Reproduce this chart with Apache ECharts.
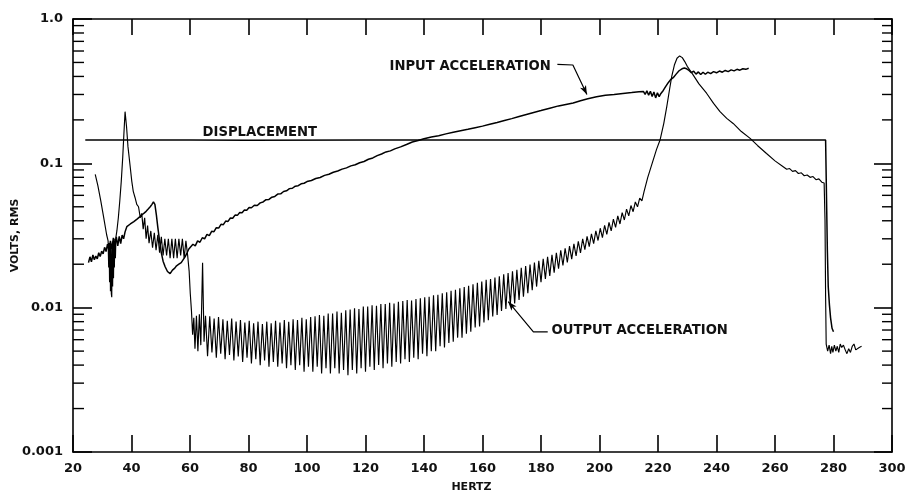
<!DOCTYPE html>
<html>
<head>
<meta charset="utf-8">
<script src="https://cdn.jsdelivr.net/npm/echarts@6/dist/echarts.min.js"></script>
<style>html,body{margin:0;padding:0;background:#fff}#c{width:908px;height:492px}</style>
</head>
<body>
<div id="c"></div>
<script>
// ---- axes ----
var xTicks = [20, 40, 60, 80, 100, 120, 140, 160, 180, 200, 220, 240, 260, 280, 300];
var yTickLabels = {"0": "1.0", "-1": "0.1", "-2": "0.01", "-3": "0.001"};
var minorTickVals = [0.002,0.003,0.004,0.005,0.006,0.007,0.008,0.009,
                     0.02,0.03,0.04,0.05,0.06,0.07,0.08,0.09,
                     0.2,0.3,0.4,0.5,0.6,0.7,0.8,0.9];

// ---- series: [hertz, volts rms] ----
var displacement = [[24.2,0.145],[60,0.145],[80,0.1445],[120,0.145],[200,0.145],[277.3,0.145],
  [277.6,0.06],[277.9,0.025],[278.2,0.014],[278.6,0.0105],[279.0,0.0085],[279.5,0.0072],[280.0,0.0068]];

var inputAccel = [
  [25.3,0.0205],[25.8,0.0225],[26.3,0.0208],[26.8,0.0232],[27.3,0.0215],[27.8,0.0228],[28.3,0.0218],[28.8,0.0240],
  [29.3,0.0226],[29.8,0.0246],[30.3,0.0236],[30.8,0.0262],[31.3,0.0245],[31.8,0.0275],[32.3,0.0250],[32.8,0.0290],
  [33.3,0.0255],[33.8,0.0305],[34.3,0.0262],[34.8,0.0310],[35.3,0.0268],[35.8,0.0312],[36.3,0.0278],[36.8,0.0318],
  [37.3,0.0300],[37.8,0.0335],[38.4,0.0364],[39,0.0355],[39.6,0.0380],[40.2,0.0372],[40.8,0.0395],[41.4,0.0392],
  [42,0.0412],[42.9,0.0427],[43.6,0.0440],[44.3,0.0452],[45,0.0465],[45.7,0.0482],[46.4,0.0500],[47,0.0520],
  [47.5,0.0540],[48,0.0520],[48.5,0.0440],[49,0.0360],[49.6,0.0290],[50.2,0.0240],[50.8,0.0210],[51.5,0.0192],
  [52.3,0.0178],[53.2,0.0172],[54,0.0182],[54.8,0.0188],[55.4,0.0195],[56.2,0.0200],[57,0.0205],[57.6,0.0208],
  [58.3,0.0225],[59,0.0240],[59.6,0.0255],[60.2,0.0250],[61,0.0275],[61.8,0.0268],[62.6,0.0290],[63.4,0.0284],
  [64.2,0.0305],[65,0.0300],[65.8,0.0322],[66.6,0.0316],[67.4,0.0338],[68.2,0.0336],[69,0.0358],[69.8,0.0356],
  [70.6,0.0378],[71.4,0.0376],[72.2,0.0398],[73,0.0396],[73.8,0.0418],[74.6,0.0416],[75.4,0.0438],[76.2,0.0436],
  [77,0.0456],[77.8,0.0455],[78.6,0.0475],[79.4,0.0474],[80.2,0.0494],[81,0.0492],[82,0.0512],[83,0.0510],
  [84,0.0532],[85,0.0540],[86,0.0560],[87,0.0562],[88,0.0583],[89,0.0590],[90,0.0612],[91,0.0615],
  [92,0.0638],[93,0.0645],[94,0.0668],[95,0.0672],[96,0.0695],[97,0.0700],[98,0.0722],[99,0.0728],
  [100,0.0748],[101.5,0.0760],[103,0.0785],[104.5,0.0798],[106,0.0825],[107.5,0.0840],[109,0.0868],[110.5,0.0885],
  [112,0.0912],[113.5,0.0930],[115,0.0960],[116.5,0.0978],[118,0.1010],[119.5,0.1030],[121,0.1068],[122.5,0.1090],
  [124,0.1130],[125.5,0.1160],[127,0.1200],[128.5,0.1220],[130,0.1260],[132,0.1300],[134,0.1350],[136,0.1405],
  [138,0.1440],[140,0.1480],[142.5,0.1520],[145,0.1555],[147.5,0.1600],[150,0.1640],[152.5,0.1680],[155,0.1720],
  [157.5,0.1765],[160,0.1810],[162.5,0.1865],[165,0.1920],[167.5,0.1980],[170,0.2040],[172.5,0.2110],[175,0.2180],
  [177.5,0.2250],[180,0.2320],[183,0.2410],[186,0.2500],[188.5,0.2560],[191,0.2620],[193.5,0.2710],[196,0.2800],
  [199,0.2890],[202,0.2960],[205,0.3000],[208,0.3050],[211,0.3090],[213.5,0.3130],[215,0.3150],[215.6,0.300],
  [216.2,0.318],[216.8,0.296],[217.4,0.316],[218,0.290],[218.6,0.312],[219.2,0.284],[219.8,0.308],[220.4,0.290],
  [221,0.305],[221.8,0.320],[222.6,0.340],[223.5,0.362],[224.3,0.380],[225.2,0.392],[226.2,0.415],[227.2,0.438],
  [228.2,0.452],[229,0.458],[229.8,0.452],[230.6,0.440],[231.4,0.425],[232.2,0.435],[233,0.415],[233.8,0.430],
  [234.6,0.412],[235.4,0.428],[236.2,0.414],[237,0.428],[238,0.418],[239,0.432],[240,0.424],[241,0.436],
  [242,0.428],[243,0.440],[244,0.432],[245,0.444],[246,0.437],[247,0.448],[248,0.442],[249,0.452],
  [250,0.448],[251,0.456]
];

var outputAccel = [
  [27.6,0.084],[28.5,0.070],[29.5,0.055],[30.5,0.042],[31.5,0.032],[32.0,0.029],[32.2,0.019],[32.35,0.028],
  [32.5,0.015],[32.65,0.028],[32.8,0.013],[32.95,0.027],[33.1,0.0125],[33.25,0.0118],[33.4,0.027],[33.55,0.014],
  [33.7,0.029],[33.85,0.016],[34.0,0.029],[34.15,0.019],[34.3,0.030],[34.5,0.022],[34.7,0.031],[35.0,0.034],
  [35.5,0.042],[36.0,0.055],[36.5,0.075],[37.0,0.11],[37.4,0.16],
  [37.8,0.228],[38.3,0.18],[38.8,0.13],[39.5,0.097],[40.1,0.075],[40.6,0.064],[41.2,0.058],[41.8,0.052],
  [42.4,0.050],[43.0,0.042],[43.5,0.045],[44.0,0.035],[44.5,0.042],[45.0,0.030],[45.5,0.037],[46.0,0.028],
  [46.6,0.034],[47.2,0.026],[47.8,0.033],[48.4,0.025],[49.0,0.032],[49.6,0.024],[50.2,0.031],[50.8,0.023],
  [51.4,0.030],[52.0,0.023],[52.6,0.030],[53.2,0.022],[53.8,0.030],[54.4,0.022],[55.0,0.030],[55.6,0.022],
  [56.2,0.030],[56.8,0.023],[57.4,0.030],[58.0,0.022],[58.6,0.029],[59.2,0.023],[59.7,0.018],[60.1,0.0125],
  [60.5,0.0095],[60.9,0.0065],[61.3,0.0085],[61.7,0.0052],[62.2,0.0088],[62.7,0.0050],[63.2,0.0090],[63.7,0.0055],
  [64.3,0.0205],[64.8,0.0058],[65.3,0.0088],
  [66,0.0046],[66.75,0.0087],[67.5,0.0049],[68.25,0.0084],[69,0.0045],[69.75,0.0086],[70.5,0.0048],[71.25,0.0083],
  [72,0.0044],[72.75,0.0081],[73.5,0.0047],[74.25,0.0084],[75,0.0043],[75.75,0.0080],[76.5,0.0046],[77.25,0.0082],
  [78,0.0042],[78.75,0.0079],[79.5,0.0045],[80.25,0.0081],[81,0.0041],[81.75,0.0078],[82.5,0.0044],[83.25,0.0080],
  [84,0.0040],[84.75,0.0077],[85.5,0.0043],[86.25,0.0080],[87,0.0039],[87.75,0.0078],[88.5,0.0042],[89.25,0.0081],
  [90,0.0039],[90.75,0.0079],[91.5,0.0041],[92.25,0.0082],[93,0.0038],[93.75,0.0080],[94.5,0.0040],[95.25,0.0083],
  [96,0.0037],[96.75,0.0082],[97.5,0.0040],[98.25,0.0085],[99,0.0036],[99.75,0.0083],[100.5,0.0039],[101.25,0.0086],
  [102,0.0036],[102.75,0.0087],[103.5,0.0039],[104.25,0.0089],[105,0.0035],[105.75,0.0088],[106.5,0.0038],[107.25,0.0091],
  [108,0.0035],[108.75,0.0091],[109.5,0.0038],[110.25,0.0094],[111,0.0035],[111.75,0.0092],[112.5,0.0037],[113.25,0.0096],
  [114,0.0034],[114.75,0.0097],[115.5,0.0037],[116.25,0.0099],[117,0.0035],[117.75,0.0098],[118.5,0.0038],[119.25,0.0102],
  [120,0.0036],[120.75,0.0102],[121.5,0.0039],[122.25,0.0104],[123,0.0037],[123.75,0.0103],[124.5,0.0040],[125.25,0.0106],
  [126,0.0038],[126.75,0.0106],[127.5,0.0041],[128.25,0.0108],[129,0.0039],[129.75,0.0107],[130.5,0.0042],[131.25,0.0110],
  [132,0.0041],[132.75,0.0111],[133.5,0.0044],[134.25,0.0113],[135,0.0042],[135.75,0.0112],[136.5,0.0045],[137.25,0.0115],
  [138,0.0044],[138.75,0.0116],[139.5,0.0048],[140.25,0.0118],[141,0.0046],[141.75,0.0119],[142.5,0.0050],[143.25,0.0122],
  [144,0.0050],[144.75,0.0123],[145.5,0.0054],[146.25,0.0126],[147,0.0053],[147.75,0.0128],[148.5,0.0057],[149.25,0.0131],
  [150,0.0058],[150.75,0.0133],[151.5,0.0062],[152.25,0.0136],[153,0.0062],[153.75,0.0139],[154.5,0.0066],[155.25,0.0142],
  [156,0.0068],[156.75,0.0145],[157.5,0.0073],[158.25,0.0149],[159,0.0074],[159.75,0.0152],[160.5,0.0079],[161.25,0.0156],
  [162,0.0082],[162.75,0.0158],[163.5,0.0087],[164.25,0.0162],[165,0.0089],[165.75,0.0165],[166.5,0.0095],[167.25,0.0170],
  [168,0.0098],[168.75,0.0174],[169.5,0.0104],[170.25,0.0179],[171,0.0107],[171.75,0.0183],[172.5,0.0113],[173.25,0.0189],
  [174,0.0119],[174.75,0.0194],[175.5,0.0126],[176.25,0.0199],[177,0.0132],[177.75,0.0205],[178.5,0.0140],[179.25,0.0211],
  [180,0.0150],[180.75,0.0218],[181.5,0.0158],[182.25,0.0225],[183,0.0166],[183.75,0.0232],[184.5,0.0175],[185.25,0.0240],
  [186,0.0186],[186.75,0.0250],[187.5,0.0196],[188.25,0.0258],[189,0.0206],[189.75,0.0267],[190.5,0.0217],[191.25,0.0277],
  [192,0.0228],[192.75,0.0288],[193.5,0.0240],[194.25,0.0300],[195,0.0252],[195.75,0.0312],[196.5,0.0265],[197.25,0.0325],
  [198,0.0278],[198.75,0.0340],[199.5,0.0292],[200.25,0.0355],[201,0.0306],[201.75,0.0372],[202.5,0.0322],[203.25,0.0390],
  [204,0.0340],[204.75,0.0410],[205.5,0.0360],[206.25,0.0432],[207,0.0380],[207.75,0.0455],[208.5,0.0405],[209.25,0.0482],
  [210,0.0432],[210.75,0.0510],[211.5,0.0462],[212.25,0.0540],[213,0.0500],[213.75,0.0575],[214.5,0.0550],[215.25,0.0640],
  [216.5,0.080],[218,0.100],[219.5,0.125],[220.7,0.145],[222,0.19],[223,0.247],[224,0.33],[224.7,0.40],
  [225.6,0.48],[226.5,0.535],[227.4,0.555],[228.3,0.54],[229.2,0.505],[230,0.47],[231,0.44],[232,0.41],
  [234,0.355],[236.6,0.306],[239,0.26],[241.2,0.228],[243.5,0.205],[245.7,0.189],[248.5,0.166],[251.5,0.149],
  [254,0.133],[257.1,0.117],[260,0.104],[262.8,0.0947],[264,0.091],[265,0.092],[266,0.088],[267,0.089],
  [268,0.085],[269,0.086],[270,0.082],[271,0.083],[272,0.080],[273,0.081],[274,0.077],[275,0.078],
  [276,0.074],[276.8,0.073],[277.1,0.040],[277.3,0.012],[277.5,0.0056],[278.0,0.0050],[278.5,0.0055],[279.0,0.0048],
  [279.4,0.0054],[279.8,0.0049],[280.3,0.0055],[280.8,0.0050],[281.3,0.0054],[281.8,0.0049],[282.3,0.0056],[282.8,0.0053],
  [283.4,0.0055],[284,0.0051],[284.6,0.0048],[285.2,0.0052],[285.8,0.0049],[286.4,0.0054],[287,0.0056],[287.6,0.0051],
  [288.2,0.0050],[288.8,0.0053],[289.6,0.0054]
];

// ---- annotations ----
var annoText = ["INPUT ACCELERATION", "DISPLACEMENT", "OUTPUT ACCELERATION"];
var annoHz   = [128.2, 64.3, 183.6];
var annoV    = [0.467, 0.163, 0.0069];
var inputLeader  = [[185.6,0.485],[190.9,0.48],[195.7,0.300]];
var outputLeader = [[182.3,0.0068],[177.4,0.0068],[168.8,0.011]];

var FONT = '"DejaVu Sans", "Liberation Sans", sans-serif';
var chart = echarts.init(document.getElementById('c'), null, {renderer: 'canvas'});

function lineSeries(data, w) {
  return {type: 'line', data: data, showSymbol: false, symbol: 'none', silent: true,
          lineStyle: {color: '#000', width: w}, z: 3, animation: false};
}
function leaderSeries(data, rot) {
  var d = data.map(function (p, i) {
    if (i === data.length - 1) return {value: p, symbol: 'arrow', symbolSize: [5, 9], symbolRotate: rot};
    return {value: p, symbol: 'none'};
  });
  return {type: 'line', data: d, showSymbol: true, silent: true,
          itemStyle: {color: '#000'}, lineStyle: {color: '#000', width: 1.2}, z: 4, animation: false};
}

var axisLineStyle = {color: '#000', width: 1.6};
var labelStyle = {color: '#111', fontSize: 13, fontWeight: 'bold', fontFamily: FONT};

var option = {
  backgroundColor: '#fff',
  animation: false,
  grid: {left: 73, right: 16, top: 19, bottom: 40, containLabel: false, outerBoundsMode: 'none'},
  xAxis: [
    {type: 'value', min: 20, max: 300, interval: 20, position: 'bottom',
     axisLine: {lineStyle: axisLineStyle},
     axisTick: {inside: true, length: 17, lineStyle: {color: '#000', width: 1.6}},
     axisLabel: Object.assign({margin: 10}, labelStyle),
     splitLine: {show: false},
     name: 'HERTZ', nameLocation: 'middle', nameGap: 30,
     nameTextStyle: {color: '#111', fontSize: 11, fontWeight: 'bold', fontFamily: FONT, padding: [0, 22, 0, 0]}},
    {type: 'value', min: 20, max: 300, interval: 20, position: 'top',
     axisLine: {lineStyle: axisLineStyle},
     axisTick: {inside: true, length: 16, lineStyle: {color: '#000', width: 1.6}},
     axisLabel: {show: false}, splitLine: {show: false}}
  ],
  yAxis: [
    {type: 'log', logBase: 10, min: 0.001, max: 1, position: 'left',
     axisLine: {lineStyle: axisLineStyle},
     axisTick: {inside: true, length: 19, lineStyle: {color: '#000', width: 1.6}},
     axisLabel: Object.assign({margin: 10, formatter: function (v) {
        return yTickLabels[String(Math.round(Math.log10(v)))] || '';
     }}, labelStyle),
     splitLine: {show: false}, minorTick: {show: false},
     name: 'VOLTS, RMS', nameLocation: 'middle', nameGap: 52, nameRotate: 90, nameMoveOverlap: false,
     nameTextStyle: {color: '#111', fontSize: 11, fontWeight: 'bold', fontFamily: FONT}},
    {type: 'log', logBase: 10, min: 0.001, max: 1, position: 'right',
     axisLine: {lineStyle: axisLineStyle},
     axisTick: {inside: true, length: 18, lineStyle: {color: '#000', width: 1.6}},
     axisLabel: {show: false}, splitLine: {show: false}}
  ],
  series: [
    {type: 'custom', coordinateSystem: 'cartesian2d', xAxisIndex: 0, yAxisIndex: 0, clip: false, silent: true,
     data: minorTickVals.map(function (v) { return [20, v]; }),
     renderItem: function (params, api) {
       var v = api.value(1);
       var a = api.coord([20, v]);
       var b = api.coord([300, v]);
       var st = {stroke: '#000', lineWidth: 1.4};
       return {type: 'group', children: [
         {type: 'line', shape: {x1: a[0], y1: a[1], x2: a[0] + 11, y2: a[1]}, style: st},
         {type: 'line', shape: {x1: b[0] - 10, y1: b[1], x2: b[0], y2: b[1]}, style: st}
       ]};
     }},
    lineSeries(displacement, 1.5),
    lineSeries(inputAccel, 1.5),
    lineSeries(outputAccel, 1.15),
    leaderSeries(inputLeader, 206),
    leaderSeries(outputLeader, 40)
  ]
};
chart.setOption(option);

chart.setOption({
  graphic: annoText.map(function (t, i) {
    var p = chart.convertToPixel({xAxisIndex: 0, yAxisIndex: 0}, [annoHz[i], annoV[i]]);
    return {type: 'text', x: p[0], y: p[1], silent: true,
            style: {text: t, fill: '#111', font: 'bold 13.2px ' + FONT, verticalAlign: 'middle', align: 'left'}};
  })
});
</script>
</body>
</html>
